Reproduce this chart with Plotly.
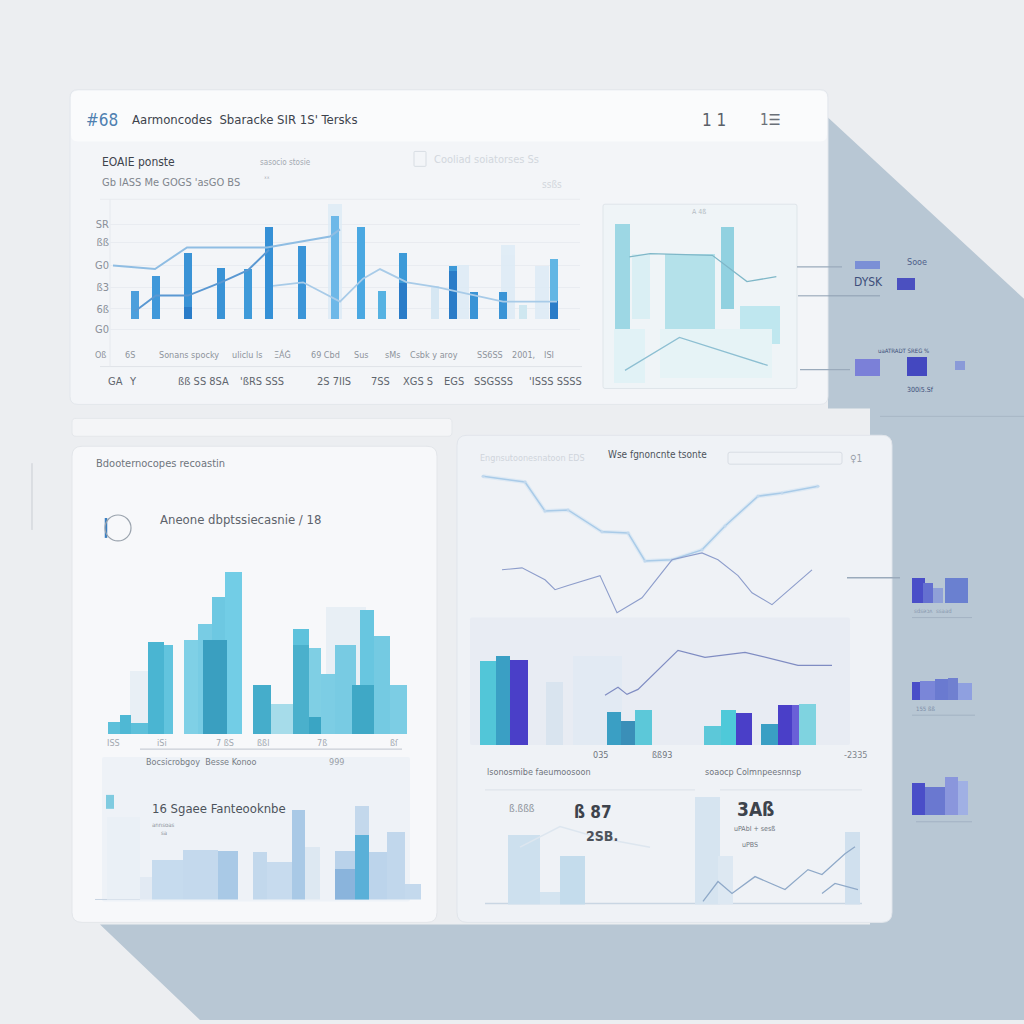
import plotly.graph_objects as go

W = H = 1024
FONT = "Liberation Sans Narrow, DejaVu Sans Condensed, Liberation Sans, sans-serif"

# ---------------- DATA ----------------
# Top panel main chart (x in weeks, y in %)
top_x = [2.5, 4.6, 7.8, 11.1, 13.8, 15.9, 19.2, 22.5, 25.1, 27.2, 29.3, 32.5, 34.3, 36.4, 39.3, 41.3, 44.4]
top_bar = [24, 36, 55, 43, 42, 77, 61, 86, 77, 24, 55, 28, 44, 23, 23, 12, 50]
top_bar_col = ["#4c9fdc", "#3f98da", "#3a93d6", "#3a93d6", "#3f9ad9", "#3590d6", "#3b95d8", "#6db8e8",
               "#4aa8e2", "#56b2e2", "#3d9ad8", "#d6e7f3", "#3d99d8", "#3a94d6", "#3a94d6", "#cfe7f0", "#62b6e4"]
top_dark_x = [7.8, 29.3, 34.3, 44.4]
top_dark = [10, 30, 40, 15]
top_faint_x = [22.5, 35.2, 39.8, 43.2]
top_faint = [96, 45, 62, 44]
lineA_x = [2.5, 4.6, 7.8, 11.1, 13.8, 15.9]
lineA_y = [7, 20, 20, 31, 41, 58]
lineB_x = [0.3, 4.5, 7.7, 15.7, 22.0, 23.0]
lineB_y = [45, 42, 60, 60, 69, 75]
lineC_x = [16.3, 19.3, 23.0, 25.3, 27.0, 29.7, 32.7, 39.3, 44.7]
lineC_y = [28, 31, 15, 34, 42, 31, 27, 15, 15]
top_ytick_vals = [79, 64, 45, 27, 9, -8]
top_ytick_text = ["SR", "ßß", "G0", "ß3", "6ß", "G0"]
top_row1 = [(100, "Oß"), (130, "6S"), (189, "Sonans spocky"), (247, "uliclu ls"), (282, "ΞÁĠ"),
            (325, "69 Cbd"), (361, "Sus"), (392, "sMs"), (434, "Csbk y aroy"), (490, "SS6SS"),
            (523, "2001,"), (549, "ISI")]
top_row2 = [(115, "GA"), (133, "Y"), (203, "ßß SS 8SA"), (262, "'ßRS SSS"), (334, "2S 7IIS"),
            (380, "7SS"), (418, "XGS S"), (454, "EGS"), (493, "SSGSSS"), (555, "'ISSS SSSS")]

# Top inset
ins_x = [0.58, 1.68, 4.5, 6.7, 8.55, 1.0, 6.0]
ins_base = [33, 39, 33, 45, 24, 0, 3]
ins_top = [97, 79, 79, 95, 47, 33, 33]
ins_w = [0.87, 1.04, 2.9, 0.75, 2.3, 1.8, 6.5]
ins_col = ["#8fd2e1", "#d6eef4", "#aadde8", "#80cbdc", "#b7e4ee", "#dff1f6", "#e4f2f6"]
insL1_x = [1.0, 2.2, 5.8, 7.8, 9.5]
insL1_y = [77, 79, 78, 62, 65]
insL2_x = [0.75, 3.9, 9.0]
insL2_y = [8, 28, 11]

# Bottom-left main chart
bl_x = [1.4, 2.55, 3.95, 5.6, 6.85, 9.1, 10.5, 11.85, 13.35, 16.2, 18.2, 20.1, 21.5, 22.8, 24.55, 26.7, 28.2, 29.85]
bl_v = [8, 12, 7, 58, 56, 59, 69, 86, 102, 31, 19, 66, 54, 38, 56, 78, 62, 31]
bl_w = [1.2, 1.1, 1.7, 1.6, 0.9, 1.4, 1.4, 1.3, 1.7, 1.8, 2.2, 1.6, 1.2, 1.4, 2.1, 1.4, 1.6, 1.7]
bl_col = ["#5dc0da", "#4fb8d4", "#5dc0da", "#4ab5d2", "#62c4de", "#7fd0e6", "#78cce4", "#6dc8e2", "#72cde6",
          "#45adcb", "#a6dcea", "#5ec2dc", "#7fcfe4", "#7ccde4", "#78cbe3", "#68c6e0", "#74cae2", "#7ccde4"]
bl_front_x = [11.5, 20.1, 21.5, 26.3]
bl_front_v = [59, 56, 11, 31]
bl_front_w = [2.4, 1.6, 1.2, 2.2]
bl_front_col = ["#3a9fc0", "#4ab0cc", "#3aa5c4", "#3fa8c6"]
bl_faint_x = [4.0, 24.6]
bl_faint_v = [40, 80]
bl_faint_w = [2.0, 4.0]
bl_ticks = [(113, "ISS"), (162, "iSi"), (225, "7 ßS"), (263, "ßßl"), (322, "7ß"), (394, "ßſ")]

# Bottom-left lower chart
bl2_x = [2.35, 4.6, 6.75, 10.05, 12.8, 16.0, 17.95, 19.85, 21.2, 24.5, 26.2, 27.8, 29.6, 31.3]
bl2_v = [73, 20, 35, 44, 43, 42, 33, 80, 47, 43, 83, 42, 60, 14]
bl2_w = [3.3, 1.2, 3.1, 3.5, 2.0, 1.4, 2.5, 1.3, 1.5, 2.0, 1.4, 1.8, 1.8, 1.6]
bl2_col = ["#eaf0f6", "#e2eaf3", "#c6dbee", "#c4d9ed", "#a9c9e6", "#c2d8ec", "#c7dbee", "#a9c9e6",
           "#dde8f2", "#b9d2ea", "#c3d8ec", "#bcd4eb", "#c1d7ec", "#c4d9ed"]
bl2_front_x = [24.5, 26.2]
bl2_front_v = [27, 57]
bl2_front_w = [2.0, 1.4]
bl2_front_col = ["#8ab4dc", "#5ab0d8"]

# Bottom-right line + bar chart
brU_x = [1.3, 5.5, 7.5, 9.8, 13.2, 15.8, 17.5, 20.2, 23.2, 25.5, 28.8, 31.2, 34.8]
brU_y = [97.1, 95.0, 84.5, 84.9, 77.0, 76.6, 66.5, 66.9, 70.5, 79.1, 89.9, 91.0, 93.5]
brL_x = [3.2, 5.2, 7.5, 8.5, 9.8, 13.0, 14.7, 17.2, 20.2, 23.2, 24.8, 26.8, 28.2, 30.2, 34.2]
brL_y = [63.3, 64.0, 59.7, 56.1, 57.6, 61.2, 47.8, 53.2, 66.9, 69.4, 66.9, 61.2, 55.0, 50.7, 63.3]
brM_x = [13.5, 14.8, 15.7, 16.8, 20.8, 23.5, 27.5, 32.8, 36.2]
brM_y = [18.0, 20.9, 18.3, 20.1, 34.2, 31.7, 33.5, 28.8, 28.8]
br_bx = [8.45, 12.75, 1.8, 3.3, 4.9, 14.4, 15.8, 17.35, 24.25, 25.85, 27.4, 29.95, 31.5, 32.55, 33.75]
br_bv = [22.7, 32.0, 30.2, 32.0, 30.6, 11.9, 8.6, 12.6, 6.8, 12.6, 11.5, 7.6, 14.4, 14.4, 14.7]
br_bw = [1.7, 4.9, 1.6, 1.4, 1.8, 1.4, 1.4, 1.7, 1.7, 1.5, 1.6, 1.7, 1.4, 0.7, 1.7]
br_bc = ["#d9e4ef", "#e2eaf3", "#52c6d8", "#3a9fc4", "#4a3fc8", "#3a9fc4", "#3a8fb8", "#5cc8d9",
         "#5cc8d9", "#4ec9d9", "#4a3fc8", "#3a9fc4", "#4a3fc8", "#6a60d8", "#7fd3e0"]

# Bottom-right lower summary chart
br2_bx = [3.9, 6.5, 8.75, 22.25, 24.0, 36.75]
br2_bv = [61, 11, 42, 94, 42, 63]
br2_bw = [3.2, 2.0, 2.5, 2.5, 1.5, 1.5]
br2_bc = ["#cde0ee", "#d4e4f0", "#c4dcec", "#d6e4f0", "#dde8f2", "#d0e0ee"]
br2L1_x = [21.8, 23.3, 24.7, 27.0, 30.0, 32.3, 33.7, 36.0, 37.0]
br2L1_y = [2.6, 20, 9.6, 24.3, 13.0, 30.4, 26.1, 44.3, 50.4]
br2L2_x = [33.7, 35.0, 37.3]
br2L2_y = [9.6, 18.3, 13.0]
br2L3_x = [3.5, 7.5, 11.5, 16.5]
br2L3_y = [50, 68, 58, 50]

# Side widgets (small bar glyphs)
wd_x = [2.75, 6.6, 2.75, 7.7, 12.0, 7.85, 8.8, 9.75, 11.65, 7.6, 8.75, 10.15, 11.3, 12.5, 7.85, 9.5, 11.15, 12.3]
wd_base = [56.0, 53.9, 45.2, 45.2, 45.8, 22.5, 22.5, 22.5, 22.5, 12.7, 12.7, 12.7, 12.7, 12.7, 1.2, 1.2, 1.2, 1.2]
wd_top = [56.8, 55.1, 47.0, 47.2, 46.8, 25.0, 24.5, 24.0, 25.0, 14.5, 14.6, 14.8, 14.9, 14.4, 4.4, 4.0, 5.0, 4.6]
wd_w = [2.5, 1.8, 2.5, 2.0, 1.0, 1.3, 1.0, 1.0, 2.3, 0.8, 1.5, 1.3, 1.0, 1.4, 1.3, 2.0, 1.3, 1.0]
wd_c = ["#7b8fd6", "#4b50c0", "#7b80d8", "#4448c0", "#8a9ad8", "#4a4ec8", "#6470d0", "#8fa0d8", "#6a80d0",
        "#4a4ec8", "#7a86d8", "#6a7ad0", "#7080d0", "#8fa0e0", "#4a4ec8", "#6a78d0", "#8a96dc", "#a0b0e4"]


# ---------------- HELPERS ----------------
def cx(px):
    return px / W


def cy(py):
    return 1 - py / H


def c(x, y):
    return f"{cx(x):.5f},{cy(y):.5f}"


def rrect(x0, y0, x1, y1, r, fill, line="rgba(0,0,0,0)", lw=0, opacity=1.0):
    p = (f"M {c(x0 + r, y0)} L {c(x1 - r, y0)} Q {c(x1, y0)} {c(x1, y0 + r)} "
         f"L {c(x1, y1 - r)} Q {c(x1, y1)} {c(x1 - r, y1)} L {c(x0 + r, y1)} "
         f"Q {c(x0, y1)} {c(x0, y1 - r)} L {c(x0, y0 + r)} Q {c(x0, y0)} {c(x0 + r, y0)} Z")
    return dict(type="path", xref="paper", yref="paper", path=p, fillcolor=fill,
                line=dict(color=line, width=lw), layer="below", opacity=opacity)


def poly(pts, fill, opacity=1.0):
    p = "M " + " L ".join(c(x, y) for x, y in pts) + " Z"
    return dict(type="path", xref="paper", yref="paper", path=p, fillcolor=fill,
                line=dict(width=0), layer="below", opacity=opacity)


def hline(x0, x1, y, color, w=1, layer="below"):
    return dict(type="line", xref="paper", yref="paper", x0=cx(x0), x1=cx(x1), y0=cy(y), y1=cy(y),
                line=dict(color=color, width=w), layer=layer)


def vline(x, y0, y1, color, w=1):
    return dict(type="line", xref="paper", yref="paper", x0=cx(x), x1=cx(x), y0=cy(y0), y1=cy(y1),
                line=dict(color=color, width=w), layer="below")


annots = []


def ann(px, py, text, size=11, color="#8a9099", anchor="left", bold=False, family=FONT):
    if bold:
        text = f"<b>{text}</b>"
    annots.append(dict(x=cx(px), y=cy(py), xref="paper", yref="paper", text=text, showarrow=False,
                       xanchor=anchor, yanchor="middle", font=dict(size=size, color=color, family=family)))


layout_axes = {}


def axis(n, px0, px1, py0, py1, xr, yr, **ykw):
    sfx = "" if n == 1 else str(n)
    layout_axes[f"xaxis{sfx}"] = dict(domain=[cx(px0), cx(px1)], range=xr, anchor=f"y{sfx}",
                                      visible=False, fixedrange=True)
    yd = dict(domain=[cy(py1), cy(py0)], range=yr, anchor=f"x{sfx}", visible=False, fixedrange=True)
    yd.update(ykw)
    layout_axes[f"yaxis{sfx}"] = yd
    return ("x" + sfx, "y" + sfx)


fig = go.Figure()

# ---------------- AXES ----------------
A1 = axis(1, 110, 580, 200, 333, [0, 47], [-10, 100],
          visible=True, showgrid=True, gridcolor="#e9ecf1", zeroline=False, showline=False,
          tickvals=top_ytick_vals, ticktext=top_ytick_text, ticks="",
          tickfont=dict(size=11, color="#8a9099", family=FONT))
A2 = axis(2, 612, 785, 220, 385, [0, 10], [0, 100])
A3 = axis(3, 108, 408, 569, 737, [0.8, 30.8], [0, 105])
A4 = axis(4, 107, 421, 790, 903, [0.7, 32.1], [0, 100])
A5 = axis(5, 470, 850, 470, 748, [0, 38], [0, 100])
A6 = axis(6, 485, 862, 793, 908, [0, 37.7], [0, 100])
A7 = axis(7, 840, 980, 240, 830, [0, 14], [0, 59])

# ---------------- TRACES ----------------
# Top main chart
fig.add_bar(x=top_faint_x, y=top_faint, width=1.4, marker=dict(color="#dcebf6", line_width=0),
            xaxis=A1[0], yaxis=A1[1], opacity=0.8)
fig.add_bar(x=top_x, y=top_bar, width=0.85, marker=dict(color=top_bar_col, line_width=0),
            xaxis=A1[0], yaxis=A1[1])
fig.add_bar(x=top_dark_x, y=top_dark, width=0.85, marker=dict(color="#2a7cc8", line_width=0),
            xaxis=A1[0], yaxis=A1[1])
fig.add_scatter(x=lineB_x, y=lineB_y, mode="lines", line=dict(color="#8fbde3", width=2),
                xaxis=A1[0], yaxis=A1[1])
fig.add_scatter(x=lineA_x, y=lineA_y, mode="lines", line=dict(color="#5a98d2", width=2),
                xaxis=A1[0], yaxis=A1[1])
fig.add_scatter(x=lineC_x, y=lineC_y, mode="lines", line=dict(color="#a8cbe8", width=1.8),
                xaxis=A1[0], yaxis=A1[1])

# Top inset
fig.add_bar(x=ins_x, y=[t - b for t, b in zip(ins_top, ins_base)], base=ins_base, width=ins_w,
            marker=dict(color=ins_col, line_width=0), opacity=0.85, xaxis=A2[0], yaxis=A2[1])
fig.add_scatter(x=insL1_x, y=insL1_y, mode="lines", line=dict(color="#7fb7c8", width=1.3),
                xaxis=A2[0], yaxis=A2[1])
fig.add_scatter(x=insL2_x, y=insL2_y, mode="lines", line=dict(color="#8dbfd2", width=1.3),
                xaxis=A2[0], yaxis=A2[1])

# Bottom-left main
fig.add_bar(x=bl_faint_x, y=bl_faint_v, width=bl_faint_w, marker=dict(color="#e8eff5", line_width=0),
            xaxis=A3[0], yaxis=A3[1])
fig.add_bar(x=bl_x, y=bl_v, width=bl_w, marker=dict(color=bl_col, line_width=0),
            xaxis=A3[0], yaxis=A3[1])
fig.add_bar(x=bl_front_x, y=bl_front_v, width=bl_front_w, marker=dict(color=bl_front_col, line_width=0),
            xaxis=A3[0], yaxis=A3[1])

# Bottom-left lower
fig.add_bar(x=bl2_x, y=bl2_v, width=bl2_w, marker=dict(color=bl2_col, line_width=0),
            xaxis=A4[0], yaxis=A4[1])
fig.add_bar(x=bl2_front_x, y=bl2_front_v, width=bl2_front_w, marker=dict(color=bl2_front_col, line_width=0),
            xaxis=A4[0], yaxis=A4[1])

# Bottom-right lines and bars
fig.add_bar(x=br_bx, y=br_bv, width=br_bw, marker=dict(color=br_bc, line_width=0),
            xaxis=A5[0], yaxis=A5[1])
fig.add_scatter(x=brU_x, y=brU_y, mode="lines", line=dict(color="#dde9f4", width=4),
                xaxis=A5[0], yaxis=A5[1])
fig.add_scatter(x=brU_x, y=brU_y, mode="lines+markers", line=dict(color="#a9cbe8", width=1.5),
                marker=dict(size=3, color="#c2d9ee"), xaxis=A5[0], yaxis=A5[1])
fig.add_scatter(x=brL_x, y=brL_y, mode="lines", line=dict(color="#8d9dcb", width=1.1),
                xaxis=A5[0], yaxis=A5[1])
fig.add_scatter(x=brM_x, y=brM_y, mode="lines", line=dict(color="#7f8cc2", width=1.2),
                xaxis=A5[0], yaxis=A5[1])

# Bottom-right lower summary
fig.add_bar(x=br2_bx, y=br2_bv, width=br2_bw, marker=dict(color=br2_bc, line_width=0),
            xaxis=A6[0], yaxis=A6[1])
fig.add_scatter(x=br2L3_x, y=br2L3_y, mode="lines", line=dict(color="#dde6ef", width=1.5),
                xaxis=A6[0], yaxis=A6[1])
fig.add_scatter(x=br2L1_x, y=br2L1_y, mode="lines", line=dict(color="#8fa9c8", width=1.3),
                xaxis=A6[0], yaxis=A6[1])
fig.add_scatter(x=br2L2_x, y=br2L2_y, mode="lines", line=dict(color="#8fa9c8", width=1.2),
                xaxis=A6[0], yaxis=A6[1])

# Side widgets
fig.add_bar(x=wd_x, y=[t - b for t, b in zip(wd_top, wd_base)], base=wd_base, width=wd_w,
            marker=dict(color=wd_c, line_width=0), xaxis=A7[0], yaxis=A7[1])

# ---------------- SHAPES ----------------
shapes = []
# diagonal shadow
shapes.append(poly([(828, 118), (1024, 300), (1024, 1024), (200, 1024), (100, 928), (870, 928),
                    (870, 410), (828, 410)], "#b8c7d4"))
# top panel
shapes.append(rrect(70, 90, 828, 406, 8, "#f3f5f8", "#e3e7ec", 1))
shapes.append(rrect(71, 91, 827, 142, 7, "#fafbfc"))
# top inset box
shapes.append(rrect(603, 205, 797, 390, 2, "#eff4f7", "#dfe5ea", 1))
# top chart rules
shapes.append(hline(100, 582, 368, "#dfe3e8", 1))
shapes.append(vline(110, 200, 368, "#e6e9ee", 1))
shapes.append(hline(100, 580, 200, "#e8ebef", 1))
# faint header widget in top panel
shapes.append(rrect(414, 152, 426, 167, 1, "rgba(0,0,0,0)", "#d8dde3", 1))
# bottom-left panel with tab strip
shapes.append(rrect(72, 420, 452, 438, 4, "#f4f5f7", "#e4e7eb", 1))
shapes.append(rrect(72, 448, 437, 926, 10, "#f7f8fa", "#e3e6ea", 1))
shapes.append(rrect(102, 760, 410, 905, 2, "#eef2f7"))
shapes.append(hline(140, 402, 752, "#c9ced6", 1.3))
shapes.append(hline(95, 140, 903, "#c8d4e2", 1))
# bottom-right panel
shapes.append(rrect(457, 437, 892, 926, 10, "#eff2f6", "#e1e5eb", 1))
shapes.append(rrect(470, 620, 850, 748, 2, "#e8ecf3"))
shapes.append(rrect(728, 454, 842, 466, 2, "rgba(0,0,0,0)", "#d8dde4", 1))
shapes.append(hline(485, 695, 793, "#dbe1e8", 1))
shapes.append(hline(720, 862, 793, "#dbe1e8", 1))
shapes.append(hline(485, 862, 907, "#c9d6e3", 1.5))
# connectors
shapes.append(hline(797, 842, 268, "#9aaabb", 1.3))
shapes.append(hline(800, 850, 371, "#9aaabb", 1.3))
shapes.append(hline(847, 900, 580, "#9aaabb", 1.3))
shapes.append(hline(880, 1024, 418, "#a9b8c6", 1))
shapes.append(hline(798, 880, 297, "#8d9db0", 1))
shapes.append(hline(912, 972, 620, "#a3b2c3", 1))
shapes.append(hline(912, 975, 718, "#a3b2c3", 1))
shapes.append(hline(916, 972, 825, "#a3b2c3", 1))
shapes.append(vline(32, 465, 532, "#c9cdd3", 1))
# bottom-left icon
shapes.append(dict(type="circle", xref="paper", yref="paper", x0=cx(105), x1=cx(131), y0=cy(543), y1=cy(517),
                   line=dict(color="#9aa3ad", width=1.2), fillcolor="rgba(0,0,0,0)", layer="above"))
shapes.append(vline(106, 520, 540, "#3b7fc0", 2.5))
shapes.append(dict(type="rect", xref="paper", yref="paper", x0=cx(106), x1=cx(114), y0=cy(812), y1=cy(798),
                   fillcolor="#7fcbe0", line=dict(width=0), layer="above"))

# ---------------- TEXT ----------------
ann(84, 120, "#68", 17, "#4e7fb0")
ann(130, 120, "Aarmoncodes  Sbaracke SIR 1S' Tersks", 13, "#3d434c")
ann(700, 120, "1 1", 17, "#5a6068")
ann(758, 120, "1☰", 15, "#6a7078")
ann(100, 163, "EOAIE ponste", 12, "#3d434c")
ann(258, 163, "sasocio stosie", 8, "#a4aab2")
ann(100, 183, "Gb IASS Me GOGS 'asGO BS", 11, "#7f858d")
ann(262, 180, "ˣˣ", 7, "#a4aab2")
ann(432, 160, "Cooliad soiatorses Ss", 11, "#d2d7dd")
ann(540, 185, "ssßs", 10, "#d2d7dd")
ann(690, 213, "A 4ß", 7, "#b5bcc4")
for px, t in top_row1:
    ann(px, 356, t, 9, "#8d939b", anchor="center")
for px, t in top_row2:
    ann(px, 383, t, 11, "#5f656d", anchor="center")
# side widget labels
ann(905, 263, "Sooe", 9, "#4f5f8a")
ann(852, 283, "DYSK", 12, "#3d4e7a")
ann(876, 352, "uaATRADT SREG %", 6, "#3d4e7a")
ann(905, 392, "300i5.Sf", 7, "#3d4e7a")
ann(912, 613, "sdsǝɔʌ  ssaad", 6, "#8a9ab0")
ann(914, 711, "155 ßß", 6, "#7d8ea8")
# bottom-left
ann(94, 465, "Bdooternocopes recoastin", 11, "#6f757d")
ann(158, 522, "Aneone dbptssiecasnie / 18", 13, "#5d636b")
for px, t in bl_ticks:
    ann(px, 746, t, 9, "#a2a8b0", anchor="center")
ann(144, 765, "Bocsicrobgoy  Besse Konoo", 9, "#777d85")
ann(336, 765, "999", 9, "#999fa7", anchor="center")
ann(150, 812, "16 Sgaee Fanteooknbe", 13, "#4d535b")
ann(150, 832, "annsoas<br> sa", 6, "#8d939b")
# bottom-right
ann(478, 460, "Engnsutoonesnatoon EDS", 9, "#d0d5dc")
ann(606, 456, "Wse fgnoncnte tsonte", 10, "#4d535b")
ann(848, 460, "♀1", 10, "#9aa1aa")
ann(600, 758, "035", 9, "#6f757d", anchor="center")
ann(662, 758, "ßß93", 9, "#6f757d", anchor="center")
ann(856, 758, "-2335", 9, "#7f858d", anchor="center")
ann(485, 775, "lsonosmibe faeumoosoon", 9, "#6f757d")
ann(703, 775, "soaocp Colmnpeesnnsp", 9, "#6f757d")
ann(507, 812, "ß.ßßß", 10, "#8d939b")
ann(572, 815, "<b>ß 87</b>", 17, "#3d434c")
ann(584, 839, "<b>2SB.</b>", 14, "#4d535b")
ann(735, 812, "<b>3Aß</b>", 19, "#3d434c")
ann(732, 832, "uPAbI + sesß", 7, "#6f757d")
ann(740, 848, "uPBS", 7, "#6f757d")

fig.update_layout(
    width=W, height=H, margin=dict(l=0, r=0, t=0, b=0),
    paper_bgcolor="#eceef1", plot_bgcolor="rgba(0,0,0,0)",
    showlegend=False, barmode="overlay", bargap=0,
    shapes=shapes, annotations=annots,
    font=dict(family=FONT),
    **layout_axes,
)

fig.write_html("out.html")
